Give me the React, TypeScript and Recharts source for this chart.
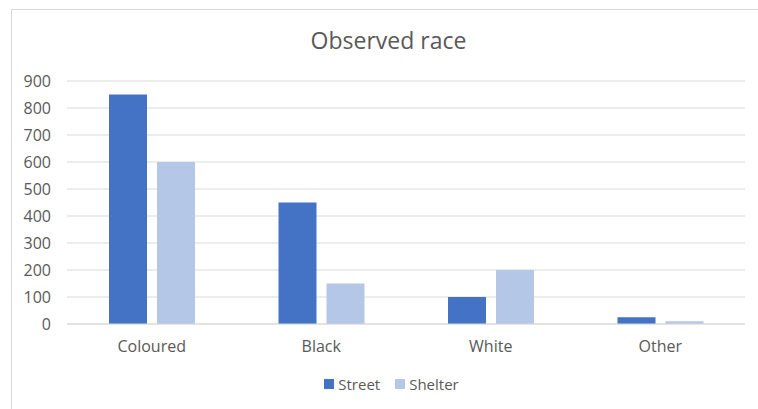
import React from "react";
import { BarChart, Bar, XAxis, YAxis, CartesianGrid, Legend } from "recharts";

const categories = ["Coloured", "Black", "White", "Other"];
const streetValues = [850, 450, 100, 25];
const shelterValues = [600, 150, 200, 10];
const yTicks = [0, 100, 200, 300, 400, 500, 600, 700, 800, 900];
const seriesNames = ["Street", "Shelter"];
const seriesColors = ["#4472C4", "#B4C7E7"];

const data = categories.map((c, i) => ({
  name: c,
  Street: streetValues[i],
  Shelter: shelterValues[i],
}));

const FONT = "'Open Sans', sans-serif";
const TEXT = "#595959";

function LegendContent() {
  return (
    <div
      style={{
        display: "flex",
        justifyContent: "center",
        alignItems: "center",
        height: 20,
        fontSize: 15,
        fontFamily: FONT,
        color: TEXT,
      }}
    >
      {seriesNames.map((n, i) => (
        <div
          key={n}
          style={{ display: "flex", alignItems: "center", marginRight: i === 0 ? 15 : 0 }}
        >
          <span
            style={{
              display: "inline-block",
              width: 10,
              height: 10,
              background: seriesColors[i],
              marginRight: 4,
            }}
          />
          <span>{n}</span>
        </div>
      ))}
    </div>
  );
}

export default function App() {
  return (
    <div
      style={{
        position: "absolute",
        left: 0,
        top: 0,
        width: 758,
        height: 409,
        overflow: "hidden",
        background: "#fff",
        fontFamily: FONT,
      }}
    >
      <div
        style={{
          position: "absolute",
          left: 11,
          top: 9,
          width: 780,
          height: 440,
          border: "1px solid #D9D9D9",
          boxSizing: "border-box",
        }}
      />
      <div
        style={{
          position: "absolute",
          left: 0,
          top: 24,
          width: 777,
          textAlign: "center",
          fontSize: 23,
          color: TEXT,
          fontFamily: FONT,
        }}
      >
        Observed race
      </div>
      <div style={{ position: "absolute", left: 0, top: 0 }}>
        <BarChart
          width={758}
          height={409}
          data={data}
          margin={{ top: 81, right: 13, left: 12, bottom: 35 }}
          barGap={10}
          barSize={38}
        >
          <CartesianGrid vertical={false} stroke="#D9D9D9" strokeWidth={1} />
          <XAxis
            dataKey="name"
            height={30}
            axisLine={{ stroke: "#D9D9D9", strokeWidth: 1 }}
            tickLine={false}
            tickSize={0}
            tickMargin={17}
            tick={{ fill: TEXT, fontSize: 16, fontFamily: FONT }}
          />
          <YAxis
            width={55}
            domain={[0, 900]}
            ticks={yTicks}
            axisLine={false}
            tickLine={false}
            tickSize={0}
            tickMargin={16}
            tick={{ fill: TEXT, fontSize: 16, fontFamily: FONT }}
            interval={0}
          />
          <Legend
            verticalAlign="bottom"
            align="center"
            content={() => <LegendContent />}
            wrapperStyle={{ top: 374, left: 0, width: 783, height: 20 }}
          />
          <Bar dataKey="Street" fill={seriesColors[0]} isAnimationActive={false} />
          <Bar dataKey="Shelter" fill={seriesColors[1]} isAnimationActive={false} />
        </BarChart>
      </div>
    </div>
  );
}
